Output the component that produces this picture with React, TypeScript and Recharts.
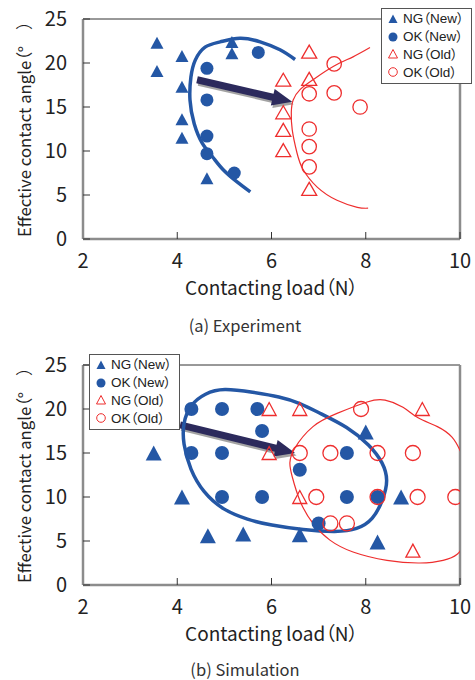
import React from 'react';
import { ScatterChart, Scatter, XAxis, YAxis, ReferenceLine, Legend, Label } from 'recharts';

const BLUE = '#2457a5';
const RED = '#ee2e2e';
const NAVY = '#2c2a5c';
const FONT = '"Noto Sans CJK JP", "Noto Sans", sans-serif';
const LEGEND_FONT = '"Liberation Sans", "Noto Sans CJK JP", sans-serif';
const TEXT = '#222';

const xTicks = [2, 4, 6, 8, 10];
const yTicks = [0, 5, 10, 15, 20, 25];
const legendNames = ['NG（New）', 'OK（New）', 'NG（Old）', 'OK（Old）'];

// (a) Experiment
const expNgNew = [
  { x: 3.57, y: 22.3 }, { x: 3.57, y: 19.1 }, { x: 4.1, y: 20.8 }, { x: 4.1, y: 17.3 },
  { x: 4.1, y: 13.6 }, { x: 4.1, y: 11.5 }, { x: 4.63, y: 6.9 }, { x: 5.16, y: 22.4 },
  { x: 5.16, y: 21.1 },
];
const expOkNew = [
  { x: 4.63, y: 19.4 }, { x: 4.63, y: 15.8 }, { x: 4.63, y: 11.7 }, { x: 4.63, y: 9.7 },
  { x: 5.21, y: 7.5 }, { x: 5.72, y: 21.2 },
];
const expNgOld = [
  { x: 6.8, y: 21.3 }, { x: 6.25, y: 18.1 }, { x: 6.8, y: 18.2 }, { x: 6.25, y: 14.4 },
  { x: 6.25, y: 12.4 }, { x: 6.25, y: 10.1 }, { x: 6.8, y: 5.7 },
];
const expOkOld = [
  { x: 7.33, y: 19.9 }, { x: 6.8, y: 16.5 }, { x: 7.33, y: 16.6 }, { x: 7.88, y: 15.0 },
  { x: 6.8, y: 12.5 }, { x: 6.8, y: 10.5 }, { x: 6.8, y: 8.2 },
];
const expNewCurve = [
  { x: 5.55, y: 5.35 }, { x: 5.29, y: 6.4 }, { x: 4.97, y: 7.9 }, { x: 4.74, y: 9.4 },
  { x: 4.53, y: 10.9 }, { x: 4.36, y: 13.1 }, { x: 4.27, y: 15.8 }, { x: 4.29, y: 18.4 },
  { x: 4.38, y: 20.3 }, { x: 4.59, y: 21.8 }, { x: 4.91, y: 22.4 }, { x: 5.33, y: 22.8 },
  { x: 5.76, y: 22.4 }, { x: 6.18, y: 21.5 }, { x: 6.5, y: 20.4 },
];
const expOldCurve = [
  { x: 8.09, y: 21.75 }, { x: 7.73, y: 20.7 }, { x: 7.31, y: 19.6 }, { x: 6.88, y: 18.1 },
  { x: 6.61, y: 17.0 }, { x: 6.46, y: 15.8 }, { x: 6.42, y: 14.4 }, { x: 6.44, y: 12.4 },
  { x: 6.54, y: 9.8 }, { x: 6.67, y: 7.9 }, { x: 6.97, y: 5.9 }, { x: 7.39, y: 4.4 },
  { x: 7.82, y: 3.6 }, { x: 8.05, y: 3.5 },
];
const expArrow = [{ x: 4.42, y: 18.1 }, { x: 6.44, y: 15.6 }];

// (b) Simulation
const simNgNew = [
  { x: 3.5, y: 15 }, { x: 4.1, y: 10 }, { x: 4.65, y: 5.6 }, { x: 5.4, y: 5.8 },
  { x: 6.6, y: 5.7 }, { x: 8.0, y: 17.4 }, { x: 8.25, y: 4.9 }, { x: 8.75, y: 10 },
];
const simOkNew = [
  { x: 4.3, y: 20 }, { x: 4.95, y: 20 }, { x: 5.7, y: 20 }, { x: 5.8, y: 17.5 },
  { x: 4.3, y: 15 }, { x: 4.95, y: 15 }, { x: 7.6, y: 15 }, { x: 6.6, y: 13.1 },
  { x: 4.95, y: 10 }, { x: 5.8, y: 10 }, { x: 7.6, y: 10 }, { x: 8.25, y: 10 },
  { x: 7.0, y: 7 },
];
const simNgOld = [
  { x: 5.95, y: 20 }, { x: 6.6, y: 20 }, { x: 9.2, y: 20 }, { x: 5.95, y: 15 },
  { x: 6.6, y: 10 }, { x: 9.0, y: 3.9 },
];
const simOkOld = [
  { x: 7.9, y: 20 }, { x: 6.6, y: 15 }, { x: 7.25, y: 15 }, { x: 8.25, y: 15 },
  { x: 9.0, y: 15 }, { x: 6.95, y: 10 }, { x: 8.25, y: 10 }, { x: 9.1, y: 10 },
  { x: 9.9, y: 10 }, { x: 7.25, y: 7 }, { x: 7.6, y: 7 },
];
const simNewCurve = [
  { x: 4.97, y: 22.4 }, { x: 5.61, y: 21.9 }, { x: 6.18, y: 21.4 }, { x: 6.6, y: 20.7 },
  { x: 7.03, y: 19.5 }, { x: 7.61, y: 18.0 }, { x: 8.09, y: 15.9 }, { x: 8.37, y: 13.9 },
  { x: 8.48, y: 11.9 }, { x: 8.37, y: 9.7 }, { x: 8.16, y: 7.4 }, { x: 7.82, y: 6.3 },
  { x: 7.39, y: 6.0 }, { x: 6.67, y: 6.25 }, { x: 5.97, y: 6.8 }, { x: 5.5, y: 7.4 },
  { x: 4.97, y: 8.5 }, { x: 4.55, y: 10.5 }, { x: 4.27, y: 13.1 }, { x: 4.12, y: 16.1 },
  { x: 4.12, y: 18.4 }, { x: 4.27, y: 20.5 }, { x: 4.59, y: 21.8 },
];
const simOldCurve = [
  { x: 10.15, y: 13.5 }, { x: 10.0, y: 15.3 }, { x: 9.83, y: 16.8 }, { x: 9.52, y: 18.0 },
  { x: 9.11, y: 19.0 }, { x: 8.79, y: 20.2 }, { x: 8.41, y: 21.0 }, { x: 8.03, y: 20.8 },
  { x: 7.39, y: 19.5 }, { x: 6.88, y: 18.0 }, { x: 6.5, y: 15.6 }, { x: 6.39, y: 13.9 },
  { x: 6.44, y: 12.3 }, { x: 6.61, y: 9.5 }, { x: 6.88, y: 7.0 }, { x: 7.24, y: 5.1 },
  { x: 7.73, y: 3.75 }, { x: 8.45, y: 2.8 }, { x: 9.15, y: 2.5 }, { x: 9.64, y: 2.8 },
  { x: 9.94, y: 3.5 }, { x: 10.1, y: 5.0 }, { x: 10.2, y: 8 }, { x: 10.2, y: 11 },
  { x: 10.15, y: 13.5 },
];
const simArrow = [{ x: 4.06, y: 18.2 }, { x: 6.5, y: 15.0 }];

const makeTriangle = (w: number, h: number, fill: string, stroke: string, sw: number) => (props: any) => {
  const { cx, cy } = props;
  const pts = `${cx},${cy - h / 2} ${cx + w / 2},${cy + h / 2} ${cx - w / 2},${cy + h / 2}`;
  return <polygon points={pts} fill={fill} stroke={stroke} strokeWidth={sw} />;
};

const makeCircle = (r: number, fill: string, stroke: string, sw: number) => (props: any) => (
  <circle cx={props.cx} cy={props.cy} r={r} fill={fill} stroke={stroke} strokeWidth={sw} />
);

const noShape = () => <g />;

// thick 3D-ish arrow between the two segment ends
const ArrowShape = (props: any) => {
  const { x1, y1, x2, y2 } = props;
  const dx = x2 - x1;
  const dy = y2 - y1;
  const len = Math.hypot(dx, dy) || 1;
  const ux = dx / len;
  const uy = dy / len;
  const nx = -uy;
  const ny = ux;
  const hw = 3.5;
  const headW = 8.5;
  const headL = 20;
  const bx = x2 - ux * headL;
  const by = y2 - uy * headL;
  const pts = [
    [x1 + nx * hw, y1 + ny * hw],
    [bx + nx * hw, by + ny * hw],
    [bx + nx * headW, by + ny * headW],
    [x2, y2],
    [bx - nx * headW, by - ny * headW],
    [bx - nx * hw, by - ny * hw],
    [x1 - nx * hw, y1 - ny * hw],
  ].map(p => p.join(',')).join(' ');
  return (
    <g>
      <polygon points={pts} fill="#8c8c8c" opacity={0.8} transform="translate(1.5,2.5)" />
      <polygon points={pts} fill={NAVY} />
    </g>
  );
};

const legendIcon = (i: number) => {
  if (i === 0) return <polygon points="6,1.5 10.5,10 1.5,10" fill={BLUE} />;
  if (i === 1) return <circle cx={6} cy={6} r={4.5} fill={BLUE} />;
  if (i === 2) return <polygon points="6,1.5 10.5,10 1.5,10" fill="none" stroke={RED} strokeWidth={1} />;
  return <circle cx={6} cy={6} r={4.3} fill="none" stroke={RED} strokeWidth={1} />;
};

const LegendBox = () => (
  <div
    style={{
      width: 91,
      height: 76,
      boxSizing: 'border-box',
      border: '1.5px solid #555',
      background: '#fff',
      padding: '1px 0 0 5px',
      fontFamily: LEGEND_FONT,
      fontSize: 13.5,
      color: TEXT,
      fontFeatureSettings: '"palt"',
    }}
  >
    {legendNames.map((name, i) => (
      <div key={name} style={{ display: 'flex', alignItems: 'center', height: 17.8, lineHeight: '15px' }}>
        <svg width={12} height={12} style={{ flex: 'none' }}>{legendIcon(i)}</svg>
        <span style={{ marginLeft: 4, whiteSpace: 'nowrap', lineHeight: '15px' }}>{name}</span>
      </div>
    ))}
  </div>
);

const tickStyle = { fontSize: 20, fill: TEXT, fontFamily: FONT };

interface PanelProps {
  top: number;
  bottom: number;
  legendPos: { left: number; top: number };
  ngNew: { x: number; y: number }[];
  okNew: { x: number; y: number }[];
  ngOld: { x: number; y: number }[];
  okOld: { x: number; y: number }[];
  newCurve: { x: number; y: number }[];
  oldCurve: { x: number; y: number }[];
  newClosed: boolean;
  arrow: { x: number; y: number }[];
  sizes: { ngNew: [number, number]; okNew: number; ngOld: [number, number]; okOld: number };
}

const Panel: React.FC<PanelProps> = p => (
  <ScatterChart width={475} height={340} margin={{ top: p.top, right: 15, bottom: p.bottom, left: 0 }}>
    <XAxis
      type="number"
      dataKey="x"
      domain={[2, 10]}
      ticks={xTicks}
      allowDataOverflow
      height={30}
      axisLine={{ stroke: '#8c8c8c', strokeWidth: 2.5 }}
      tickLine={{ stroke: '#333', strokeWidth: 1 }}
      tickSize={-7}
      tickMargin={22}
      tick={tickStyle}
    >
      <Label
        value="Contacting load（N）"
        position="bottom"
        offset={13}
        style={{ fontSize: 19, fill: TEXT, fontFamily: FONT, fontFeatureSettings: '"palt"' }}
      />
    </XAxis>
    <YAxis
      type="number"
      dataKey="y"
      domain={[0, 25]}
      ticks={yTicks}
      allowDataOverflow
      width={83}
      axisLine={{ stroke: '#8c8c8c', strokeWidth: 2.5 }}
      tickLine={{ stroke: '#333', strokeWidth: 1 }}
      tickSize={-7}
      tickMargin={23}
      tick={tickStyle}
    >
      <Label
        value="Effective contact angle（°　）"
        angle={-90}
        position="insideLeft"
        offset={25}
        style={{ fontSize: 16.8, fill: TEXT, fontFamily: FONT, textAnchor: 'middle', fontFeatureSettings: '"palt"' }}
      />
    </YAxis>
    <ReferenceLine y={25} stroke="#333" strokeWidth={1} />
    <ReferenceLine x={10} stroke="#8c8c8c" strokeWidth={2.5} />
    <Scatter
      data={p.newCurve}
      shape={noShape}
      line={{ stroke: BLUE, strokeWidth: 3.5, fill: 'none' }}
      lineJointType={p.newClosed ? 'basisClosed' : 'natural'}
      legendType="none"
      isAnimationActive={false}
    />
    <Scatter
      data={p.oldCurve}
      shape={noShape}
      line={{ stroke: RED, strokeWidth: 1.2, fill: 'none' }}
      lineJointType="natural"
      legendType="none"
      isAnimationActive={false}
    />
    <Scatter data={p.ngNew} shape={makeTriangle(p.sizes.ngNew[0], p.sizes.ngNew[1], BLUE, 'none', 0)} isAnimationActive={false} />
    <Scatter data={p.okNew} shape={makeCircle(p.sizes.okNew, BLUE, 'none', 0)} isAnimationActive={false} />
    <Scatter data={p.ngOld} shape={makeTriangle(p.sizes.ngOld[0], p.sizes.ngOld[1], 'none', RED, 1.3)} isAnimationActive={false} />
    <Scatter data={p.okOld} shape={makeCircle(p.sizes.okOld, 'none', RED, 1.3)} isAnimationActive={false} />
    <ReferenceLine segment={p.arrow} shape={ArrowShape} ifOverflow="visible" />
    <Legend
      layout="vertical"
      align="center"
      verticalAlign="middle"
      content={() => <LegendBox />}
      wrapperStyle={{ left: p.legendPos.left, top: p.legendPos.top, width: 91 }}
    />
  </ScatterChart>
);

const captionStyle: React.CSSProperties = {
  position: 'absolute',
  left: 0,
  width: 490,
  textAlign: 'center',
  fontFamily: FONT,
  fontSize: 16.5,
  color: '#333',
  lineHeight: '18px',
};

export default function App() {
  return (
    <div style={{ position: 'absolute', left: 0, top: 0, width: 475, height: 680, background: '#fff', overflow: 'hidden' }}>
      <div style={{ position: 'absolute', left: 0, top: 0 }}>
        <Panel
          top={19}
          bottom={71}
          legendPos={{ left: 381, top: 8 }}
          ngNew={expNgNew}
          okNew={expOkNew}
          ngOld={expNgOld}
          okOld={expOkOld}
          newCurve={expNewCurve}
          oldCurve={expOldCurve}
          newClosed={false}
          arrow={expArrow}
          sizes={{ ngNew: [13, 12], okNew: 6.5, ngOld: [15, 13], okOld: 7.2 }}
        />
      </div>
      <div style={{ ...captionStyle, top: 316 }}>(a) Experiment</div>
      <div style={{ position: 'absolute', left: 0, top: 340 }}>
        <Panel
          top={25}
          bottom={65}
          legendPos={{ left: 89, top: 14 }}
          ngNew={simNgNew}
          okNew={simOkNew}
          ngOld={simNgOld}
          okOld={simOkOld}
          newCurve={simNewCurve}
          oldCurve={simOldCurve}
          newClosed={true}
          arrow={simArrow}
          sizes={{ ngNew: [16, 15], okNew: 7, ngOld: [14, 13], okOld: 7.5 }}
        />
      </div>
      <div style={{ ...captionStyle, top: 660 }}>(b) Simulation</div>
    </div>
  );
}
